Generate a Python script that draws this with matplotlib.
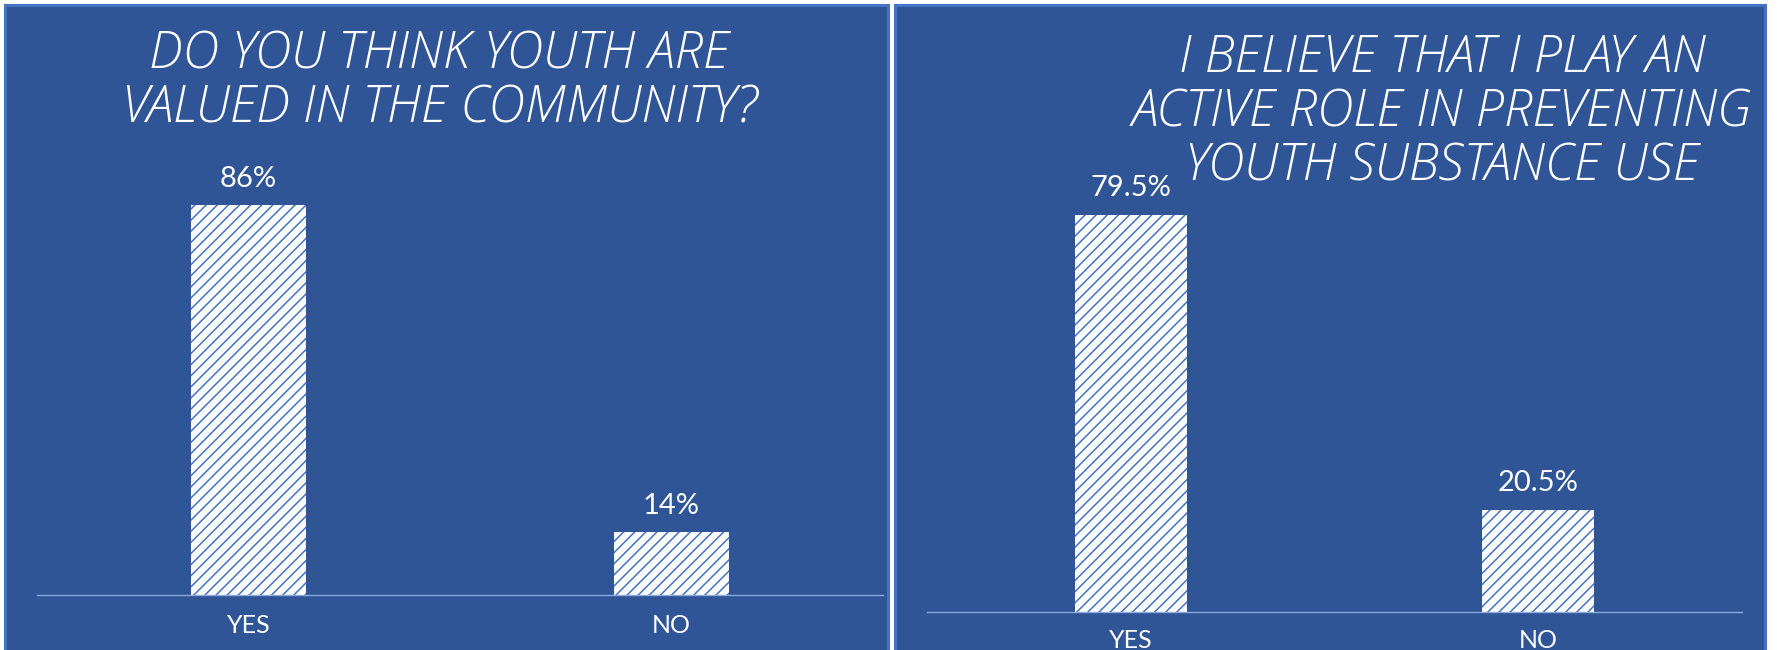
import matplotlib
matplotlib.use("Agg")
import matplotlib.pyplot as plt
from matplotlib.patches import Rectangle

# ---- data ----
categories = ["YES", "NO"]
valued_values = [86, 14]
active_role_values = [79.5, 20.5]
left_title = ["DO YOU THINK YOUTH ARE", "VALUED IN THE COMMUNITY?"]
right_title = ["I BELIEVE THAT I PLAY AN", "ACTIVE ROLE IN PREVENTING", "YOUTH SUBSTANCE USE"]

W, H = 1777, 650
BG = "#2F5597"
BORDER = "#4472C4"
HATCH = "#4472C4"
BASE = "#8EA9DB"

plt.rcParams["hatch.linewidth"] = 1.1
plt.rcParams["font.family"] = ["Lato", "DejaVu Sans"]

fig = plt.figure(figsize=(W / 100, H / 100), dpi=100)
fig.patch.set_facecolor("white")


def fx(x):
    return x / W


def fy(y):
    return 1 - y / H


# panel backgrounds
for x0, x1 in [(5, 888), (895, 1765)]:
    fig.add_artist(Rectangle((fx(x0), fy(670)), fx(x1 - x0), (670 - 5) / H,
                             transform=fig.transFigure, facecolor=BG,
                             edgecolor=BORDER, linewidth=2.2, zorder=0))


def panel(rect, values, bar_w, tick_pad, label_pad):
    ax = fig.add_axes(rect)
    ax.set_facecolor("none")
    x = list(range(len(categories)))
    bars = ax.bar(x, values, width=bar_w, facecolor="white", edgecolor=HATCH,
                  linewidth=0, hatch="///")
    ax.set_xlim(-0.5, 1.5)
    ax.set_ylim(0, 100)
    for s in ["top", "left", "right"]:
        ax.spines[s].set_visible(False)
    ax.spines["bottom"].set_color(BASE)
    ax.spines["bottom"].set_linewidth(1.0)
    ax.set_yticks([])
    ax.set_xticks(x)
    ax.set_xticklabels(categories, color="white", fontsize=18)
    ax.tick_params(axis="x", length=0, pad=tick_pad)
    ax.bar_label(bars, labels=[f"{v:g}%" for v in values], padding=label_pad,
                 color="white", fontsize=21)
    return ax


# left panel: baseline at y=595, 100% -> 453.5 px
panel([fx(37), fy(595), fx(883 - 37), 453.5 / H], valued_values, 0.27, 14, 9)
# right panel: baseline at y=612, 100% -> 500 px
panel([fx(927), fy(612), fx(1742 - 927), 500 / H], active_role_values, 0.276, 12, 10)

title_font = dict(color="white", fontsize=36.5, style="italic", weight=300,
                  family=["Open Sans", "DejaVu Sans"])
for i, line in enumerate(left_title):
    fig.text(fx(439), fy(55 + 54 * i), line, ha="center", va="center", **title_font)
for i, line in enumerate(right_title):
    fig.text(fx(1442), fy(59 + 54 * i), line, ha="center", va="center", **title_font)

fig.savefig("out.png", dpi=100, facecolor="white")
